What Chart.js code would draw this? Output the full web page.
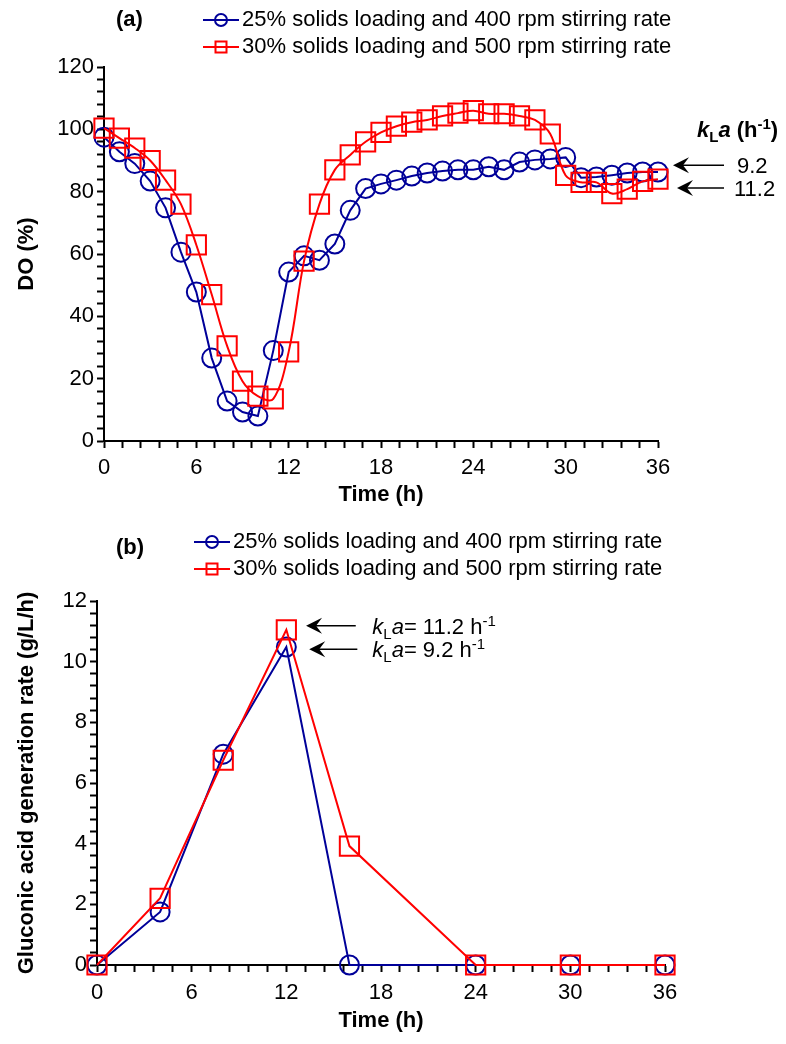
<!DOCTYPE html>
<html>
<head>
<meta charset="utf-8">
<script src="https://cdn.jsdelivr.net/npm/chart.js@4.4.0/dist/chart.umd.min.js"></script>
<style>
  html, body { margin: 0; padding: 0; background: #fff; }
  #boxA { position: absolute; left: 0; top: 0; width: 786px; height: 510px; }
  #boxB { position: absolute; left: 0; top: 510px; width: 786px; height: 534px; }
</style>
</head>
<body>
<div id="boxA"><canvas id="chartDO"></canvas></div>
<div id="boxB"><canvas id="chartRate"></canvas></div>
<script>
// panel (a): dissolved oxygen, every hour
const timeA = [0, 1, 2, 3, 4, 5, 6, 7, 8, 9, 10, 11, 12, 13, 14, 15, 16, 17, 18,
  19, 20, 21, 22, 23, 24, 25, 26, 27, 28, 29, 30, 31, 32, 33, 34, 35, 36];
const doLow = [97.5, 92.8, 89, 83.4, 74.8, 60.6, 47.8, 26.6, 12.8, 9.3, 8, 29,
  54.2, 59.4, 58, 63.2, 74, 81, 82.5, 83.7, 85, 86, 86.6, 87, 87, 88, 87, 89.5,
  90.2, 90.5, 91, 84.5, 84.7, 85.3, 86, 86.3, 86.3];
const doHigh = [100.4, 97.2, 94, 90, 83.7, 76, 62.9, 47, 30.5, 19.2, 14.4, 13.5,
  28.6, 57.7, 76, 87, 91.8, 96, 99, 101, 102.3, 103, 104.3, 105.2, 106, 105, 105,
  104.3, 103, 98.5, 85.2, 83, 83, 79.4, 80.8, 83.3, 84];

// panel (b): gluconic acid generation rate
const timeB = [0, 4, 8, 12, 16, 24, 30, 36];
const rateLow = [0, 1.75, 6.95, 10.48, 0, 0, 0, 0];
const rateHigh = [0, 2.2, 6.75, 11.05, 3.92, 0, 0, 0];

const seriesNames = ['25% solids loading and 400 rpm stirring rate',
                     '30% solids loading and 500 rpm stirring rate'];
const timeTicks = [0, 6, 12, 18, 24, 30, 36];
const doTicks = [0, 20, 40, 60, 80, 100, 120];
const rateTicks = [0, 2, 4, 6, 8, 10, 12];

const FONT = '"Liberation Sans", Arial, Helvetica, sans-serif';
const BLUE = '#000099';
const RED = '#ff0000';
const FS = 22;

Chart.defaults.font.family = FONT;
Chart.defaults.font.size = FS;
Chart.defaults.color = '#000';

function pts(xs, ys) { return xs.map((x, i) => ({ x: x, y: ys[i] })); }
function onlyMajor(list) {
  return v => list.some(t => Math.abs(t - v) < 1e-6) ? String(Math.round(v)) : '';
}

function drawMarker(ctx, kind, x, y, r, color) {
  ctx.save();
  ctx.strokeStyle = color;
  ctx.lineWidth = 2;
  ctx.beginPath();
  if (kind === 'circle') ctx.arc(x, y, r, 0, Math.PI * 2);
  else ctx.rect(x - r, y - r, r * 2, r * 2);
  ctx.stroke();
  ctx.restore();
}

function drawLegend(ctx, x0, y0, gap) {
  const kinds = ['circle', 'rect'];
  const colors = [BLUE, RED];
  seriesNames.forEach((name, i) => {
    const y = y0 + i * gap;
    ctx.save();
    ctx.strokeStyle = colors[i];
    ctx.lineWidth = 2;
    ctx.beginPath();
    ctx.moveTo(x0, y);
    ctx.lineTo(x0 + 36, y);
    ctx.stroke();
    ctx.restore();
    drawMarker(ctx, kinds[i], x0 + 18, y, kinds[i] === 'circle' ? 6 : 5.5, colors[i]);
    ctx.save();
    ctx.font = FS + 'px ' + FONT;
    ctx.fillStyle = '#000';
    ctx.textBaseline = 'middle';
    ctx.fillText(name, x0 + 39, y);
    ctx.restore();
  });
}

// rich text: parts of {t, style, size, dy}
function drawRich(ctx, x, y, parts) {
  ctx.save();
  ctx.fillStyle = '#000';
  ctx.textBaseline = 'alphabetic';
  parts.forEach(p => {
    ctx.font = (p.style || '') + ' ' + (p.size || FS) + 'px ' + FONT;
    ctx.fillText(p.t, x, y + (p.dy || 0));
    x += ctx.measureText(p.t).width;
  });
  ctx.restore();
}

function drawArrow(ctx, xTip, xTail, y) {
  ctx.save();
  ctx.strokeStyle = '#000';
  ctx.fillStyle = '#000';
  ctx.lineWidth = 1.5;
  ctx.beginPath();
  ctx.moveTo(xTip + 8, y);
  ctx.lineTo(xTail, y);
  ctx.stroke();
  ctx.beginPath();
  ctx.moveTo(xTip, y);
  ctx.lineTo(xTip + 16, y - 8);
  ctx.lineTo(xTip + 10, y);
  ctx.lineTo(xTip + 16, y + 8);
  ctx.closePath();
  ctx.fill();
  ctx.restore();
}

function axisX(max, title, titlePad, height, tickPad) {
  return {
    type: 'linear', min: 0, max: max,
    border: { display: true, color: '#000', width: 2 },
    grid: { drawOnChartArea: false, drawTicks: true, tickLength: 7, color: '#000', tickWidth: 2 },
    ticks: { stepSize: 1.2, autoSkip: false, maxRotation: 0, padding: tickPad, callback: onlyMajor(timeTicks) },
    title: { display: true, text: title, font: { weight: 'bold', size: FS }, padding: { top: 0, bottom: titlePad } },
    afterFit: s => { s.height = height; }
  };
}

function axisY(max, step, major, title, width) {
  return {
    min: 0, max: max,
    border: { display: true, color: '#000', width: 2 },
    grid: { drawOnChartArea: false, drawTicks: true, tickLength: 7, color: '#000', tickWidth: 2 },
    ticks: { stepSize: step, autoSkip: false, padding: 3, callback: onlyMajor(major) },
    title: { display: true, text: title, font: { weight: 'bold', size: FS }, padding: { top: 14, bottom: 0 } },
    afterFit: s => { s.width = width; }
  };
}

function lineSet(label, data, color, kind, tension, order) {
  return {
    label: label, data: data, order: order,
    borderColor: color, backgroundColor: 'rgba(0,0,0,0)', borderWidth: 2,
    pointStyle: kind, pointRadius: kind === 'circle' ? 9.5 : 13.6,
    pointBorderColor: color, pointBackgroundColor: 'rgba(0,0,0,0)', pointBorderWidth: 2,
    tension: tension, clip: false, fill: false
  };
}

const annotA = {
  id: 'annotA',
  afterDraw(chart) {
    const ctx = chart.ctx;
    const ys = chart.scales.y;
    ctx.save();
    ctx.font = 'bold ' + FS + 'px ' + FONT;
    ctx.textBaseline = 'middle';
    ctx.fillStyle = '#000';
    ctx.fillText('(a)', 116, 20);
    ctx.restore();
    drawLegend(ctx, 203, 20, 27);
    drawRich(ctx, 697, 137, [
      { t: 'k', style: 'italic bold' },
      { t: 'L', style: 'bold', size: 15, dy: 5 },
      { t: 'a', style: 'italic bold' },
      { t: ' (h', style: 'bold' },
      { t: '-1', style: 'bold', size: 15, dy: -8 },
      { t: ')', style: 'bold' }
    ]);
    const y1 = ys.getPixelForValue(88.5), y2 = ys.getPixelForValue(81.2);
    drawArrow(ctx, 673, 724, y1);
    drawArrow(ctx, 677, 724, y2);
    drawRich(ctx, 737, y1 + 8, [{ t: '9.2' }]);
    drawRich(ctx, 734, y2 + 8, [{ t: '11.2' }]);
  }
};

const annotB = {
  id: 'annotB',
  afterDraw(chart) {
    const ctx = chart.ctx;
    const xs = chart.scales.x, ys = chart.scales.y;
    ctx.save();
    ctx.font = 'bold ' + FS + 'px ' + FONT;
    ctx.textBaseline = 'middle';
    ctx.fillStyle = '#000';
    ctx.fillText('(b)', 116, 38);
    ctx.restore();
    drawLegend(ctx, 194, 32, 27);
    const y1 = ys.getPixelForValue(11.18), y2 = ys.getPixelForValue(10.41);
    drawArrow(ctx, xs.getPixelForValue(13.25), xs.getPixelForValue(16.4), y1);
    drawArrow(ctx, xs.getPixelForValue(13.45), xs.getPixelForValue(16.5), y2);
    const tx = xs.getPixelForValue(17.45);
    drawRich(ctx, tx, y1 + 8, [
      { t: 'k', style: 'italic' }, { t: 'L', size: 15, dy: 5 }, { t: 'a', style: 'italic' },
      { t: '= 11.2 h' }, { t: '-1', size: 15, dy: -8 }
    ]);
    drawRich(ctx, tx, y2 + 8, [
      { t: 'k', style: 'italic' }, { t: 'L', size: 15, dy: 5 }, { t: 'a', style: 'italic' },
      { t: '= 9.2 h' }, { t: '-1', size: 15, dy: -8 }
    ]);
  }
};

new Chart(document.getElementById('chartDO').getContext('2d'), {
  type: 'line',
  data: {
    datasets: [
      lineSet(seriesNames[0], pts(timeA, doLow), BLUE, 'circle', 0, 1),
      lineSet(seriesNames[1], pts(timeA, doHigh), RED, 'rect', 0.35, 0)
    ]
  },
  options: {
    responsive: true, maintainAspectRatio: false, animation: false, events: [],
    layout: { padding: { left: 0, right: 128, top: 67, bottom: 0 } },
    plugins: { legend: { display: false }, tooltip: { enabled: false } },
    scales: {
      x: axisX(36, 'Time (h)', 2, 69, 7),
      y: axisY(120, 4, doTicks, 'DO (%)', 104)
    }
  },
  plugins: [annotA]
});

new Chart(document.getElementById('chartRate').getContext('2d'), {
  type: 'line',
  data: {
    datasets: [
      lineSet(seriesNames[0], pts(timeB, rateLow), BLUE, 'circle', 0, 1),
      lineSet(seriesNames[1], pts(timeB, rateHigh), RED, 'rect', 0, 0)
    ]
  },
  options: {
    responsive: true, maintainAspectRatio: false, animation: false, events: [],
    layout: { padding: { left: 0, right: 121, top: 91, bottom: 0 } },
    plugins: { legend: { display: false }, tooltip: { enabled: false } },
    scales: {
      x: axisX(36, 'Time (h)', 10, 79, 8),
      y: axisY(12, 0.4, rateTicks, 'Gluconic acid generation rate (g/L/h)', 97)
    }
  },
  plugins: [annotB]
});
</script>
</body>
</html>
